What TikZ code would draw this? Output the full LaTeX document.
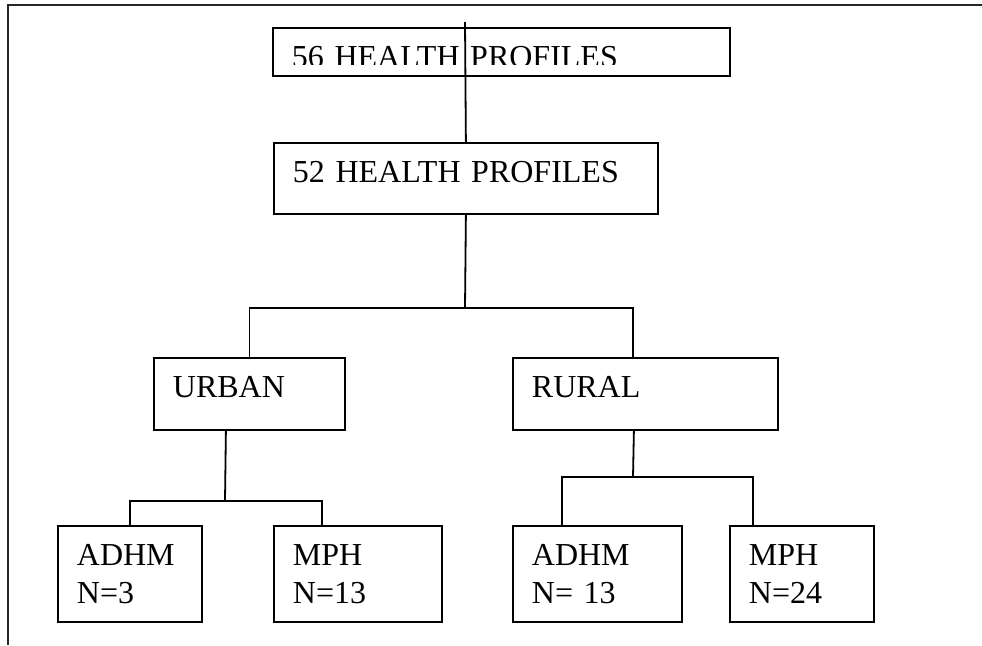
\documentclass[tikz,border=0pt]{standalone}
\usepackage{fontspec}
\setmainfont{Liberation Serif}
\usepackage{tikz}
\usetikzlibrary{calc}

\newcommand{\boxfont}{\fontsize{32}{38}\selectfont}

\tikzset{
  box/.style={draw, line width=1.8pt, rectangle, anchor=north west,
    inner xsep=19pt, inner ysep=0pt, align=left, text height=40pt, font=\boxfont},
  link/.style={line width=1.8pt},
}

\begin{document}
\begin{tikzpicture}[x=1pt, y=-1pt]
\useasboundingbox (0,0) rectangle (982,645);

% frame
\draw[line width=2.5pt, black!85] (982,5) -- (8,5) -- (8,645);

% top box, text cut off
\begin{scope}
\clip (272,27) rectangle (729,64.5);
\node[box, draw=none, text width=419pt, text depth=8pt] (t56) at (272,27) {56 HEALTH PROFILES};
\end{scope}
\node[box, text width=419pt, text depth=8pt] (b56) at (272,27) {};

\node[box, text width=346pt, text depth=31pt] (b52) at (273,142) {52 HEALTH PROFILES};

\node[box, text width=153pt, text depth=32pt] (urban) at (153,357) {URBAN};
\node[box, text width=227pt, text depth=32pt] (rural) at (512,357) {RURAL};

\node[box, text width=106pt, text depth=56pt] (adhm1) at (57,525) {ADHM\\N=3};
\node[box, text width=130pt, text depth=56pt] (mph1) at (273,525) {MPH\\N=13};
\node[box, text width=131pt, text depth=56pt] (adhm2) at (512,525) {ADHM\\N= 13};
\node[box, text width=106pt, text depth=56pt] (mph2) at (729,525) {MPH\\N=24};

\coordinate (stem) at (465,22);
\coordinate (fork1) at (465,308);
\coordinate (fork2) at (225,501);
\coordinate (fork3) at (633,477);

\draw[link] (stem) -- (b52.north);
\draw[link] (b52.south) -- (fork1);
\draw[link] (urban.north) |- (fork1) -| ([shift={(-12.5,0)}]rural.north);

\draw[link] ([shift={(-23.5,0)}]urban.south) -- (fork2);
\draw[link] (adhm1.north) |- (fork2) -| ([shift={(-36,0)}]mph1.north);

\draw[link] ([shift={(-11.5,0)}]rural.south) -- (fork3);
\draw[link] ([shift={(-35.5,0)}]adhm2.north) |- (fork3) -| ([shift={(-49,0)}]mph2.north);

\end{tikzpicture}
\end{document}
